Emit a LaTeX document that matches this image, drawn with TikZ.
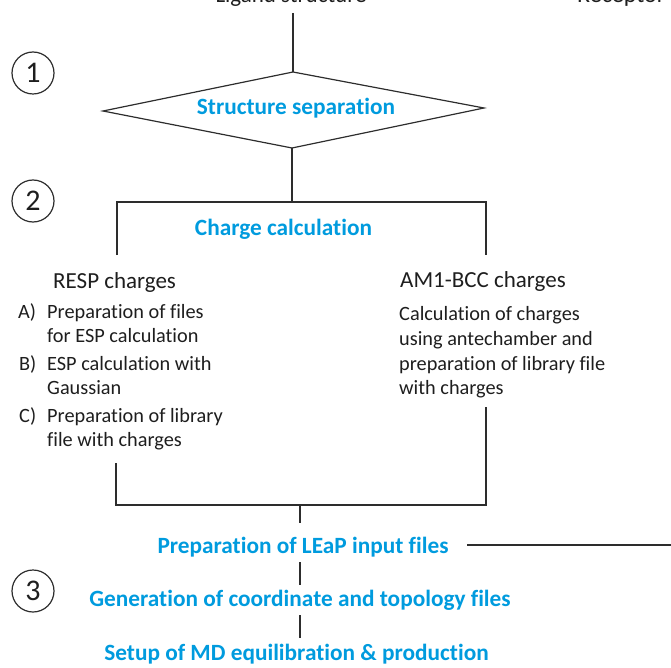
\documentclass[tikz,border=0pt]{standalone}
\usepackage{fontspec}
\setmainfont{Carlito}[Ligatures={NoCommon}]
\usetikzlibrary{calc}
\definecolor{stepblue}{RGB}{0,155,222}
\definecolor{linegray}{RGB}{45,45,45}
\definecolor{txtgray}{RGB}{30,30,30}
\tikzset{
  conn/.style={draw=linegray, line width=1.2pt},
  bluelbl/.style={text=stepblue, font=\fontsize{23.3}{27}\selectfont\bfseries, inner sep=0pt, anchor=base},
  headlbl/.style={text=txtgray, font=\fontsize{23}{27}\selectfont, inner sep=0pt, anchor=base west},
  listlbl/.style={text=txtgray, font=\fontsize{20.3}{24}\selectfont, inner sep=0pt, anchor=base west},
  numcirc/.style={circle, draw=linegray, line width=1.2pt, minimum size=42pt, inner sep=0pt, text=txtgray, font=\fontsize{30}{30}\selectfont},
}
\begin{document}
\begin{tikzpicture}[x=1pt,y=-1pt]
\useasboundingbox (0,0) rectangle (671,668);

% top titles (clipped by page, as in the reference)
\node[headlbl, anchor=base] (lig) at (291,3) {Ligand structure};
\node[headlbl, font=\fontsize{24}{28}\selectfont] (rec) at (577,3) {Receptor structure};

% step numbers
\node[numcirc] (n1) at (33,73) {1};
\node[numcirc] (n2) at (33,201) {2};
\node[numcirc] (n3) at (33,591) {3};

% diamond
\coordinate (dtop) at (293,72);
\coordinate (dright) at (484,108);
\coordinate (dbot) at (292,148);
\coordinate (dleft) at (103,111);
\draw[conn, line join=miter] (dtop) -- (dright) -- (dbot) -- (dleft) -- cycle;
\node[bluelbl] (sep) at (296,115) {Structure separation};
\coordinate (ligend) at (293,13);
\draw[conn] (ligend) -- (dtop);

% split
\coordinate (j1) at (292,202);
\coordinate (jl) at (117,202);
\coordinate (jr) at (486,202);
\coordinate (jlb) at (117,255);
\coordinate (jrb) at (486,255);
\draw[conn] (dbot) -- (j1);
\draw[conn] (jlb) -- (jl) -- (jr) -- (jrb);
\node[bluelbl] (charge) at (283.5,235) {Charge calculation};

% left column
\node[headlbl] (resp) at (53,288) {RESP charges};
\node[listlbl] (la) at (18,318) {A)};
\node[listlbl] (a1) at (47,318) {Preparation of files};
\node[listlbl] (a2) at (47,342) {for ESP calculation};
\node[listlbl] (lb) at (19,370) {B)};
\node[listlbl] (b1) at (47,370) {ESP calculation with};
\node[listlbl] (b2) at (47,394) {Gaussian};
\node[listlbl] (lc) at (19,422) {C)};
\node[listlbl] (c1) at (47,422) {Preparation of library};
\node[listlbl] (c2) at (47,446) {file with charges};

% right column
\node[headlbl] (am1) at (400,287) {AM1-BCC charges};
\node[listlbl] (r1) at (399,320) {Calculation of charges};
\node[listlbl] (r2) at (399,345) {using antechamber and};
\node[listlbl] (r3) at (399,370) {preparation of library file};
\node[listlbl] (r4) at (399,394) {with charges};

% merge
\coordinate (ml) at (116,463);
\coordinate (mlb) at (116,505);
\coordinate (mr) at (486,407);
\coordinate (mrb) at (486,505);
\coordinate (mm) at (300,505);
\coordinate (mmb) at (300,523);
\draw[conn] (ml) -- (mlb) -- (mrb) -- (mr);
\draw[conn] (mm) -- (mmb);

% step 3
\node[bluelbl] (leap) at (303,553) {Preparation of LEaP input files};
\coordinate (leapr) at (467,545);
\coordinate (leaprr) at (672,545);
\draw[conn] (leapr) -- (leaprr);
\coordinate (v1a) at (300,562);
\coordinate (v1b) at (300,585);
\draw[conn] (v1a) -- (v1b);
\node[bluelbl] (gen) at (300,606) {Generation of coordinate and topology files};
\coordinate (v2a) at (300,615);
\coordinate (v2b) at (300,638);
\draw[conn] (v2a) -- (v2b);
\node[bluelbl] (md) at (296.5,660) {Setup of MD equilibration \& production};
\end{tikzpicture}
\end{document}
